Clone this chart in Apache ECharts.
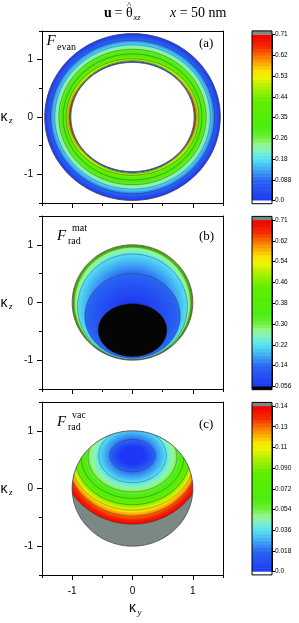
<!DOCTYPE html>
<html>
<head>
<meta charset="utf-8">
<script src="https://cdn.jsdelivr.net/npm/echarts@6.0.0/dist/echarts.min.js"></script>
<style>
html,body{margin:0;padding:0;background:#ffffff;}
#chart{width:299px;height:623px;}
</style>
</head>
<body>
<div id="chart"></div>
<script>
// ================= DATA =================
const kTickLabels = [-1, 0, 1];

// (a) F_evan : colour-bar ticks, contour levels and contour shapes (semi-axes along κy, κz)
const evanBarLabels = ['0.0', '0.088', '0.18', '0.26', '0.35', '0.44', '0.53', '0.62', '0.71'];
const evanOuterEdge = [1.455, 1.455];
const evanInnerEdge = [1.02, 0.951];
const evanLevels = [0.088, 0.18, 0.26, 0.35, 0.44, 0.53, 0.62];
const evanAy = [1.36, 1.29, 1.22, 1.15, 1.10, 1.07, 1.05];
const evanAz = [1.34, 1.26, 1.18, 1.10, 1.017, 0.96, 0.94];
const evanInnerLevels = [0.44, 0.26, 0.088];
const evanInnerAy = [1.032, 1.027, 1.023];
const evanInnerAz = [0.985, 0.974, 0.966];

// (b) F_rad^mat : contours are ellipses centred at (0, cz)
const matBarLabels = ['0.056', '0.14', '0.22', '0.30', '0.38', '0.46', '0.54', '0.62', '0.71'];
const matEdge = 1.0;
const matLevels = [0.46, 0.38, 0.30, 0.22, 0.14, 0.056];
const matCz = [-0.003, -0.008, -0.015, -0.075, -0.235, -0.48];
const matAy = [0.99, 0.98, 0.965, 0.91, 0.79, 0.57];
const matAz = [0.99, 0.983, 0.975, 0.915, 0.735, 0.46];

// (c) F_rad^vac
const vacBarLabels = ['0.0', '0.018', '0.036', '0.054', '0.072', '0.090', '0.11', '0.13', '0.14'];
const vacEdge = 1.0;
const vacLevels = [0.14, 0.13, 0.11, 0.090, 0.072, 0.054, 0.036, 0.018];
const vacCz = [0.55, 0.55, 0.55, 0.55, 0.55, 0.55, 0.57, 0.57];
const vacAy = [1.19, 1.09, 1.03, 0.953, 0.85, 0.736, 0.56, 0.38];
const vacAz = [1.17, 1.03, 0.925, 0.83, 0.72, 0.61, 0.47, 0.28];

// ================= STYLE =================
const SERIF = 'Liberation Serif', SANS = 'Liberation Sans';
const PAL = [
  [0.00, [30, 55, 245]], [0.12, [40, 100, 242]], [0.19, [65, 170, 243]],
  [0.25, [85, 225, 245]], [0.30, [125, 242, 200]], [0.34, [150, 245, 140]],
  [0.38, [110, 240, 60]], [0.44, [75, 238, 15]], [0.60, [95, 238, 0]],
  [0.68, [170, 240, 0]], [0.74, [235, 245, 0]], [0.78, [250, 228, 0]],
  [0.83, [250, 170, 0]], [0.88, [250, 105, 0]], [0.93, [245, 40, 0]], [1.00, [240, 0, 0]]
];
function cmap(t) {
  t = Math.max(0, Math.min(1, t));
  for (let i = 1; i < PAL.length; i++) {
    if (t <= PAL[i][0]) {
      const a = PAL[i - 1], b = PAL[i], f = (t - a[0]) / (b[0] - a[0]);
      const c = a[1].map((v, j) => Math.round(v + (b[1][j] - v) * f));
      return 'rgb(' + c.join(',') + ')';
    }
  }
  return 'rgb(240,0,0)';
}
const NB = 8;
const tOf = (labels, v) => labels.findIndex(s => Math.abs(parseFloat(s) - v) < 1e-9) / NB;
const GREY = '#7b8985';
const LINE = 'rgba(45,45,45,0.8)';
const EDGE = '#3a3a3a';

// ---------- layers (draw order) built from the data arrays ----------
function layersA() {
  const L = [];
  const geo = (ay, az) => Math.sqrt(ay * az);
  const outer = [{ay: evanOuterEdge[0], az: evanOuterEdge[1], t: 0}]
    .concat(evanLevels.map((v, i) => ({ay: evanAy[i], az: evanAz[i], t: tOf(evanBarLabels, v)})));
  outer.forEach((o, i) => {
    const n = outer[i + 1];
    const rho = n ? geo(n.ay, n.az) / geo(o.ay, o.az) : 0.985;
    L.push({cz: 0, ay: o.ay, az: o.az, edgeT: o.t, innerT: o.t + 1 / NB, rho,
      stroke: i === 0 ? EDGE : LINE, lw: i === 0 ? 0.8 : 0.5});
  });
  const inner = evanInnerLevels.map((v, i) => ({ay: evanInnerAy[i], az: evanInnerAz[i], t: tOf(evanBarLabels, v)}))
    .concat([{ay: evanInnerEdge[0], az: evanInnerEdge[1], t: 0}]);
  inner.forEach((o, i) => {
    const n = inner[i + 1];
    if (!n) { L.push({cz: 0, ay: o.ay, az: o.az, fill: '#ffffff', stroke: EDGE, lw: 0.6}); return; }
    L.push({cz: 0, ay: o.ay, az: o.az, edgeT: o.t, innerT: n.t, rho: geo(n.ay, n.az) / geo(o.ay, o.az), stroke: LINE, lw: 0.4});
  });
  return L;
}
function layersB() {
  const L = [];
  const all = [{cz: 0, ay: matEdge, az: matEdge, t: tOf(matBarLabels, matLevels[0]) + 1 / NB}]
    .concat(matLevels.map((v, i) => ({cz: matCz[i], ay: matAy[i], az: matAz[i], t: tOf(matBarLabels, v)})));
  all.forEach((o, i) => {
    const n = all[i + 1];
    if (!n) { L.push({cz: o.cz, ay: o.ay, az: o.az, fill: '#050505', stroke: LINE, lw: 0.5}); return; }
    const rho = (n.cz + n.az - o.cz) / o.az;   // measured along the top, where the bands are widest
    L.push({cz: o.cz, ay: o.ay, az: o.az, edgeT: o.t, innerT: n.t, rho, stroke: i === 0 ? 'none' : LINE, lw: 0.5});
  });
  L.push({mask: matEdge});
  L.push({cz: 0, ay: matEdge, az: matEdge, fill: 'none', stroke: EDGE, lw: 0.8});
  return L;
}
function layersC() {
  const L = [];
  L.push({cz: 0, ay: vacEdge, az: vacEdge, fill: GREY, stroke: 'none', lw: 0});
  const all = vacLevels.map((v, i) => ({cz: vacCz[i], ay: vacAy[i], az: vacAz[i], t: tOf(vacBarLabels, v)}));
  all.forEach((o, i) => {
    const n = all[i + 1];
    const rho = n ? (o.cz - (n.cz - n.az)) / o.az : 0.55;   // measured along the bottom
    L.push({cz: o.cz, ay: o.ay, az: o.az, edgeT: o.t, innerT: n ? n.t : 0, rho, stroke: LINE, lw: 0.5});
  });
  L.push({mask: vacEdge});
  L.push({cz: 0, ay: vacEdge, az: vacEdge, fill: 'none', stroke: EDGE, lw: 0.8});
  return L;
}

function maskPoints(api, r) {
  const pts = [[-1.6, 0], [-1.6, 1.6], [1.6, 1.6], [1.6, -1.6], [-1.6, -1.6], [-1.6, 0]].map(p => api.coord(p));
  const n = 160;
  for (let i = 0; i <= n; i++) {
    const a = 2 * Math.PI * i / n;
    pts.push(api.coord([-r * Math.cos(a), -r * Math.sin(a)]));
  }
  return pts;
}
// ellipse drawn as a circle of radius rx in local space, squeezed vertically -> elliptical gradient
function ellipseElement(api, l) {
  const c = api.coord([0, l.cz]);
  const s = api.size([1, 1]);
  const rx = l.ay * s[0], ry = l.az * s[1], k = ry / rx;
  const pts = [], n = 160;
  for (let i = 0; i < n; i++) {
    const a = 2 * Math.PI * i / n;
    pts.push([rx * Math.sin(a), -rx * Math.cos(a)]);
  }
  let fill = l.fill;
  if (fill === undefined) {
    const rho = Math.max(0, Math.min(0.995, l.rho));
    const stops = [{offset: 0, color: cmap(l.innerT)}];
    if (rho > 0) stops.push({offset: rho, color: cmap(l.innerT)});
    for (let q = 1; q <= 8; q++) {
      const f = q / 8;
      stops.push({offset: rho + (1 - rho) * f, color: cmap(l.innerT + (l.edgeT - l.innerT) * f)});
    }
    fill = {type: 'radial', x: 0, y: 0, r: rx, global: true, colorStops: stops};
  }
  return {type: 'polygon', x: c[0], y: c[1], scaleX: 1, scaleY: k, shape: {points: pts},
    style: {fill, stroke: l.stroke, lineWidth: l.lw, strokeNoScale: true}};
}
function panelSeries(p, layers) {
  return {
    type: 'custom', xAxisIndex: 3 * p, yAxisIndex: 3 * p, clip: true, silent: true,
    data: layers.map((l, i) => [i]),
    renderItem: (params, api) => {
      const l = layers[params.dataIndex];
      if (l.mask) {
        return {type: 'polygon', shape: {points: maskPoints(api, l.mask)}, style: {fill: '#ffffff', stroke: 'none'}};
      }
      return ellipseElement(api, l);
    }
  };
}

function barSeries(b, labels, belowColor) {
  const lo = parseFloat(labels[0]), hi = parseFloat(labels[labels.length - 1]);
  const N = 48, data = [];
  for (let i = 0; i < N + 3; i++) data.push([i]);
  return {
    type: 'custom', xAxisIndex: 9 + b, yAxisIndex: 9 + b, clip: false, silent: true, data,
    renderItem: (params, api) => {
      const i = params.dataIndex;
      const top = api.coord([0, hi]), bot = api.coord([1, lo]);
      const x0 = top[0], w = bot[0] - top[0];
      if (i < N) {
        const p0 = api.coord([0, lo + (hi - lo) * i / N]), p1 = api.coord([1, lo + (hi - lo) * (i + 1) / N]);
        return {type: 'rect', shape: {x: x0, y: p1[1], width: w, height: p0[1] - p1[1] + 0.6}, style: {fill: cmap((i + 0.5) / N)}};
      }
      if (i === N) return {type: 'rect', shape: {x: x0, y: top[1] - 3.6, width: w, height: 3.8}, style: {fill: GREY}};
      if (i === N + 1) return {type: 'rect', shape: {x: x0, y: bot[1], width: w, height: 3.2}, style: {fill: belowColor}};
      return {type: 'rect', shape: {x: x0, y: top[1] - 3.6, width: w, height: bot[1] - top[1] + 6.8},
        style: {fill: 'none', stroke: '#000', lineWidth: 1}};
    }
  };
}

// ---------- axes ----------
const fmtK = v => (Math.abs(v - Math.round(v)) < 1e-9 ? String(Math.round(v)) : '');
const axBase = {min: -1.5, max: 1.5, interval: 0.5, z: 10, splitLine: {show: false}};
const lineBlack = {color: '#000', width: 1};
const xAxes = [], yAxes = [];
for (let p = 0; p < 3; p++) {
  xAxes.push(Object.assign({}, axBase, {gridIndex: p, position: 'bottom',
    axisLine: {show: true, onZero: false, lineStyle: lineBlack},
    axisTick: {show: true, length: 5, customValues: kTickLabels, lineStyle: lineBlack},
    axisLabel: {show: p === 2, customValues: kTickLabels, margin: 11, fontSize: 10, fontFamily: SANS, color: '#000', formatter: fmtK}}));
  xAxes.push(Object.assign({}, axBase, {gridIndex: p, position: 'bottom',
    axisLine: {show: false, onZero: false}, axisTick: {show: true, length: 3, lineStyle: lineBlack}, axisLabel: {show: false}}));
  xAxes.push(Object.assign({}, axBase, {gridIndex: p, position: 'top',
    axisLine: {show: true, onZero: false, lineStyle: lineBlack}, axisTick: {show: false}, axisLabel: {show: false}}));
  yAxes.push(Object.assign({}, axBase, {gridIndex: p, position: 'left',
    axisLine: {show: true, onZero: false, lineStyle: lineBlack},
    axisTick: {show: true, length: 5, customValues: kTickLabels, lineStyle: lineBlack},
    axisLabel: {show: true, customValues: kTickLabels, margin: 9, fontSize: 10, fontFamily: SANS, color: '#000', formatter: fmtK}}));
  yAxes.push(Object.assign({}, axBase, {gridIndex: p, position: 'left',
    axisLine: {show: false, onZero: false}, axisTick: {show: true, length: 3, lineStyle: lineBlack}, axisLabel: {show: false}}));
  yAxes.push(Object.assign({}, axBase, {gridIndex: p, position: 'right',
    axisLine: {show: true, onZero: false, lineStyle: lineBlack}, axisTick: {show: false}, axisLabel: {show: false}}));
}
[evanBarLabels, matBarLabels, vacBarLabels].forEach((labels, b) => {
  const lo = parseFloat(labels[0]), hi = parseFloat(labels[labels.length - 1]);
  const iv = (hi - lo) / 8;
  xAxes.push({gridIndex: 3 + b, min: 0, max: 1, show: false});
  yAxes.push({gridIndex: 3 + b, position: 'right', min: lo, max: hi, interval: iv, z: 10,
    splitLine: {show: false},
    axisLine: {show: true, onZero: false, lineStyle: lineBlack},
    axisTick: {show: true, length: 3, lineStyle: lineBlack},
    axisLabel: {margin: 3, fontSize: 6.5, fontFamily: SANS, color: '#000',
      formatter: v => { const k = Math.round((v - lo) / iv); return labels[k] !== undefined ? labels[k] : ''; }}});
});

// ---------- texts ----------
function T(text, x, y, size, family, extra) {
  return {type: 'text', x, y, z: 100, silent: true,
    style: Object.assign({text, fontSize: size, fontFamily: family, fill: '#000',
      textAlign: 'left', textVerticalAlign: 'middle'}, extra || {})};
}
const graphics = [
  T('u', 104, 13, 14, SERIF, {fontWeight: 'bold'}),
  T('=', 114.5, 13, 14, SERIF),
  T('θ', 126, 13, 14, SERIF),
  T('^', 127, 5.5, 9, SERIF),
  T('xz', 133.5, 17.5, 8.5, SERIF, {fontStyle: 'italic'}),
  T('{i|x} = 50 nm', 170, 13, 14, SERIF, {rich: {i: {fontStyle: 'italic', fontSize: 14, fontFamily: SERIF}}}),
  T('F', 46.5, 41.5, 15, SERIF, {fontStyle: 'italic'}),
  T('evan', 57, 47, 10, SERIF),
  T('(a)', 199, 44, 13, SERIF),
  T('F', 57, 236, 15, SERIF, {fontStyle: 'italic'}),
  T('mat', 72, 228.5, 10, SERIF),
  T('rad', 68, 241, 10, SERIF),
  T('(b)', 199, 237, 13, SERIF),
  T('F', 57, 422, 15, SERIF, {fontStyle: 'italic'}),
  T('vac', 72, 415, 10, SERIF),
  T('rad', 68, 427.5, 10, SERIF),
  T('(c)', 199, 425, 13, SERIF),
  T('κ', 129, 608, 14, SANS),
  T('y', 137.5, 612.5, 9, SERIF, {fontStyle: 'italic'})
];
[117, 303, 489].forEach(y => {
  graphics.push(T('κ', 0.5, y, 14, SANS));
  graphics.push(T('z', 9, y + 4, 9, SERIF, {fontStyle: 'italic'}));
});

const option = {
  animation: false,
  backgroundColor: '#ffffff',
  grid: [
    {left: 42, top: 31, width: 181, height: 172, outerBoundsMode: 'none'},
    {left: 42, top: 216, width: 181, height: 173, outerBoundsMode: 'none'},
    {left: 42, top: 402, width: 181, height: 173, outerBoundsMode: 'none'},
    {left: 252, top: 34.5, width: 20, height: 166, outerBoundsMode: 'none'},
    {left: 252, top: 220, width: 20, height: 166.5, outerBoundsMode: 'none'},
    {left: 252, top: 406, width: 20, height: 165.7, outerBoundsMode: 'none'}
  ],
  xAxis: xAxes,
  yAxis: yAxes,
  series: [
    panelSeries(0, layersA()),
    panelSeries(1, layersB()),
    panelSeries(2, layersC()),
    barSeries(0, evanBarLabels, '#ffffff'),
    barSeries(1, matBarLabels, '#050505'),
    barSeries(2, vacBarLabels, '#ffffff')
  ],
  graphic: graphics
};
const chart = echarts.init(document.getElementById('chart'), null, {renderer: 'canvas'});
chart.setOption(option);
</script>
</body>
</html>
